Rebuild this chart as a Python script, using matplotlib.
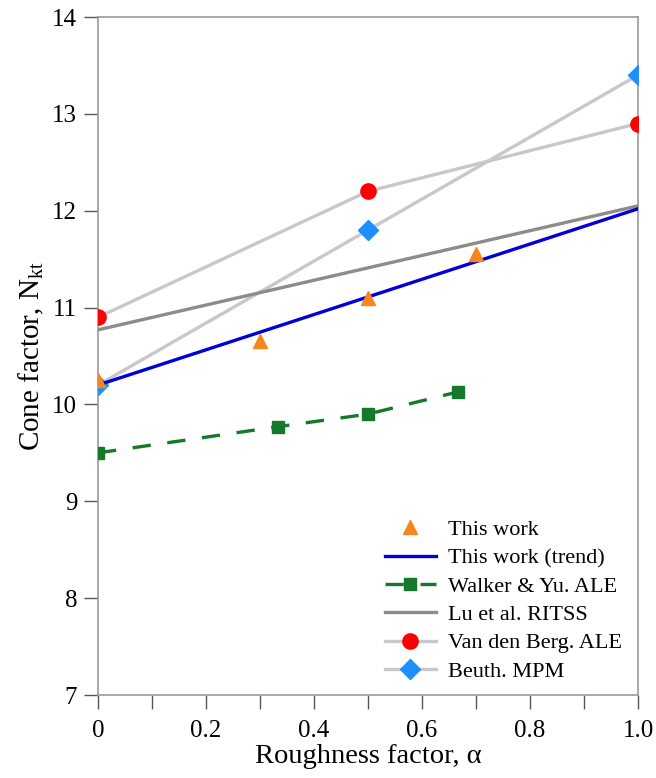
import matplotlib
matplotlib.use("Agg")
import matplotlib.pyplot as plt
from matplotlib.ticker import MultipleLocator, FixedLocator

plt.rcParams['font.family'] = ['Liberation Serif', 'DejaVu Serif']
plt.rcParams['mathtext.fontset'] = 'custom'
plt.rcParams['mathtext.rm'] = 'Liberation Serif'
plt.rcParams['mathtext.it'] = 'Liberation Serif:italic'

# Data
this_work_x = [0.0, 0.3, 0.5, 0.7]
this_work_y = [10.25, 10.65, 11.1, 11.55]
trend_x = [0.0, 1.0]
trend_y = [10.2, 12.02]
walker_x = [0.0, 0.333, 0.5, 0.667]
walker_y = [9.5, 9.77, 9.9, 10.13]
lu_x = [0.0, 1.0]
lu_y = [10.77, 12.05]
vdb_x = [0.0, 0.5, 1.0]
vdb_y = [10.9, 12.2, 12.9]
beuth_x = [0.0, 0.5, 1.0]
beuth_y = [10.2, 11.8, 13.4]
xtick_labels = ["0", "0.2", "0.4", "0.6", "0.8", "1.0"]

fig = plt.figure(figsize=(6.56, 7.78), dpi=100)
ax = fig.add_axes([98/656, 1-695/778, 540/656, 678/778])

spine_c = '#9a9a9a'
ax.plot(beuth_x, beuth_y, color='#c8c8c8', lw=2.4, marker='D', ms=10,
        mfc='#1e8fff', mec='#1e8fff', label='Beuth. MPM', zorder=3)
ax.plot(vdb_x, vdb_y, color='#c8c8c8', lw=2.4, marker='o', ms=11,
        mfc='#ff0000', mec='#ff0000', label='Van den Berg. ALE', zorder=3)
ax.plot(lu_x, lu_y, color='#8c8c8c', lw=2.4, label='Lu et al. RITSS', zorder=4)
ax.plot(walker_x, walker_y, color='#15782a', lw=2.4, ls=(0, (5.5, 5)), marker='s',
        ms=9, label='Walker & Yu. ALE', zorder=4)
ax.plot(trend_x, trend_y, color='#0000d8', lw=2.4, label='This work (trend)', zorder=5)
ax.plot(this_work_x, this_work_y, ls='none', marker='^', ms=10,
        color='#f7861c', label='This work', zorder=6)

ax.set_xlim(0, 1.0)
ax.set_ylim(7, 14)
ax.xaxis.set_major_locator(FixedLocator([0, 0.2, 0.4, 0.6, 0.8, 1.0]))
ax.set_xticklabels(xtick_labels)
ax.xaxis.set_minor_locator(FixedLocator([0.1, 0.3, 0.5, 0.7, 0.9]))
ax.yaxis.set_major_locator(MultipleLocator(1))

for s in ax.spines.values():
    s.set_color(spine_c)
    s.set_linewidth(1.2)
ax.tick_params(axis='both', which='both', direction='out', color='#555555',
               labelsize=18, width=1.0)
ax.tick_params(axis='x', which='major', length=10, pad=8)
ax.tick_params(axis='x', which='minor', length=10)
ax.tick_params(axis='y', which='major', length=10, pad=5)

ax.set_xlabel('Roughness factor, α', fontsize=20.5)
ax.set_ylabel(r'Cone factor, N$_{\mathrm{kt}}$', fontsize=21)
ax.xaxis.set_label_coords(270/540, -(763 - 695) / 678, transform=ax.transAxes)
ax.xaxis.label.set_va('baseline')
ax.yaxis.set_label_coords(-(98 - 31) / 540, (695 - 356) / 678)
ax.yaxis.label.set_va('center')

handles, labels = ax.get_legend_handles_labels()
order = ['This work', 'This work (trend)', 'Walker & Yu. ALE',
         'Lu et al. RITSS', 'Van den Berg. ALE', 'Beuth. MPM']
hmap = dict(zip(labels, handles))
leg = ax.legend([hmap[o] for o in order], order, loc='lower right',
                bbox_to_anchor=(0.995, 0.0), frameon=False, fontsize=16,
                handlelength=2.3, handletextpad=0.55, labelspacing=0.35,
                borderaxespad=0.2)

fig.savefig('out.png', dpi=100)
